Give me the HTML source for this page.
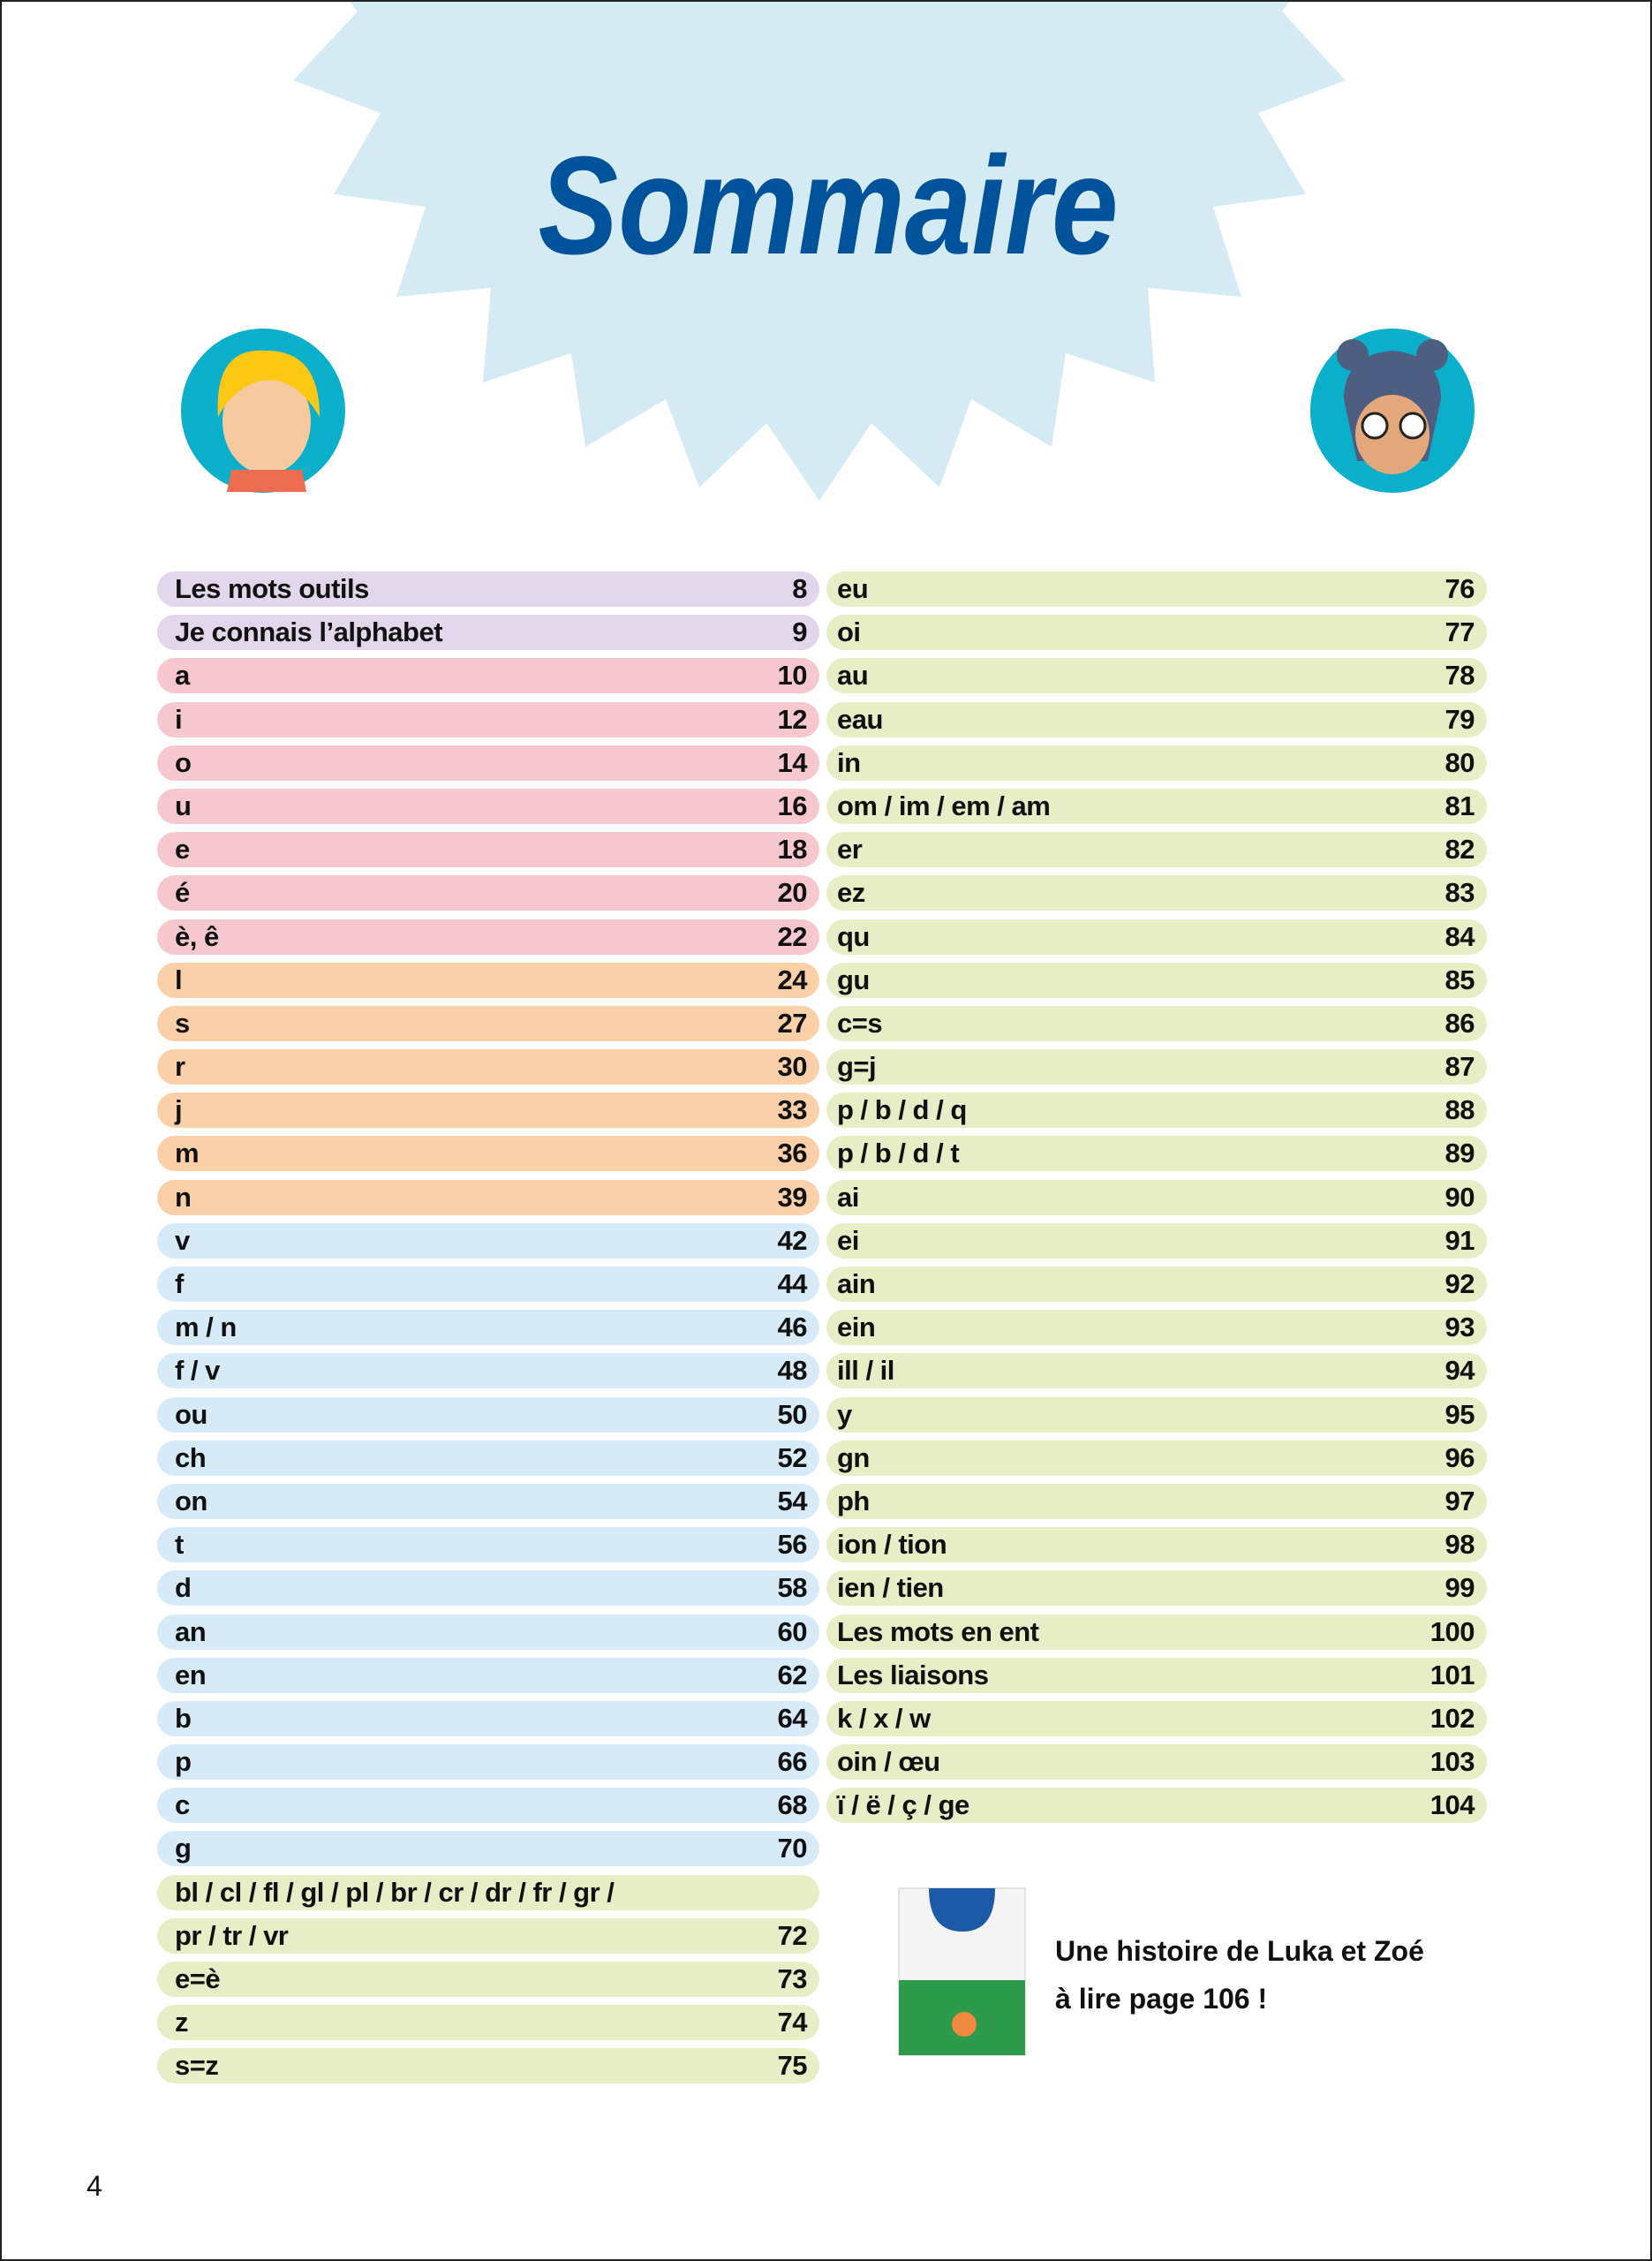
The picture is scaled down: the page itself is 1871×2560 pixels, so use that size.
<!DOCTYPE html>
<html><head><meta charset="utf-8"><style>
html,body{margin:0;padding:0;background:#fff;}
#page{position:relative;width:1871px;height:2560px;overflow:hidden;background:#fff;box-sizing:border-box;border:2px solid #222;font-family:"Liberation Sans",sans-serif;}
.col{position:absolute;top:645px;}
.r{height:40px;margin-bottom:9.2px;border-radius:20px;display:flex;justify-content:space-between;align-items:center;padding:0 14px 0 20px;box-sizing:border-box;font-weight:bold;font-size:31px;color:#111;letter-spacing:-0.5px;}
.p{background:#e1d6ea}.k{background:#f7c7d0}.o{background:#fbd0a9}.b{background:#d6ebf7}.g{background:#e7eec6}
</style></head><body><div id="page">
<svg width="1871" height="2560" style="position:absolute;left:0;top:0">
<polygon fill="#d5ebf3" points="394,0 403,11 330,89 429,126 376,218 480,232 447,334 554,324 545,431 645,398 661,504 752,450 790,550 866,477 926,565 985,477 1062,550 1098,450 1189,504 1205,398 1306,431 1298,324 1404,334 1372,232 1477,218 1423,126 1522,89 1450,11 1458,0"/>
<text x="936" y="285" text-anchor="middle" font-family="Liberation Sans" font-weight="bold" font-style="italic" font-size="158" fill="#00529b" transform="translate(936,0) scale(0.86,1) translate(-936,0)">Sommaire</text>
<circle cx="296" cy="463" r="93" fill="#0aafcc"/>
<circle cx="1575" cy="463" r="93" fill="#0aafcc"/>
<ellipse cx="300" cy="475" rx="50" ry="60" fill="#f7c99f"/>
<path d="M245,470 Q240,390 300,395 Q360,395 360,470 Q330,420 290,430 Q260,440 245,470Z" fill="#fcc813"/>
<path d="M255,555 L345,555 L340,530 L260,530Z" fill="#ec6c4f"/>
<path d="M1520,450 Q1520,400 1575,395 Q1630,400 1630,450 L1615,520 L1535,520Z" fill="#4d5e80"/>
<circle cx="1530" cy="400" r="18" fill="#4d5e80"/><circle cx="1620" cy="400" r="18" fill="#4d5e80"/>
<ellipse cx="1575" cy="490" rx="42" ry="45" fill="#e2a77a"/>
<circle cx="1555" cy="480" r="14" fill="#fff" stroke="#222" stroke-width="3"/><circle cx="1598" cy="480" r="14" fill="#fff" stroke="#222" stroke-width="3"/>
<rect x="1016" y="2136" width="143" height="189" fill="#f4f4f4" stroke="#ccc"/>
<rect x="1016" y="2240" width="143" height="85" fill="#2e9a4c"/>
<path d="M1050,2136 L1125,2136 Q1125,2185 1088,2185 Q1050,2185 1050,2136Z" fill="#1a5aa6"/>
<circle cx="1090" cy="2290" r="14" fill="#f0883e"/>
</svg>
<div class="col" style="left:176px;width:750px">
<div class="r p"><span>Les mots outils</span><span>8</span></div>
<div class="r p"><span>Je connais l’alphabet</span><span>9</span></div>
<div class="r k"><span>a</span><span>10</span></div>
<div class="r k"><span>i</span><span>12</span></div>
<div class="r k"><span>o</span><span>14</span></div>
<div class="r k"><span>u</span><span>16</span></div>
<div class="r k"><span>e</span><span>18</span></div>
<div class="r k"><span>é</span><span>20</span></div>
<div class="r k"><span>è, ê</span><span>22</span></div>
<div class="r o"><span>l</span><span>24</span></div>
<div class="r o"><span>s</span><span>27</span></div>
<div class="r o"><span>r</span><span>30</span></div>
<div class="r o"><span>j</span><span>33</span></div>
<div class="r o"><span>m</span><span>36</span></div>
<div class="r o"><span>n</span><span>39</span></div>
<div class="r b"><span>v</span><span>42</span></div>
<div class="r b"><span>f</span><span>44</span></div>
<div class="r b"><span>m / n</span><span>46</span></div>
<div class="r b"><span>f / v</span><span>48</span></div>
<div class="r b"><span>ou</span><span>50</span></div>
<div class="r b"><span>ch</span><span>52</span></div>
<div class="r b"><span>on</span><span>54</span></div>
<div class="r b"><span>t</span><span>56</span></div>
<div class="r b"><span>d</span><span>58</span></div>
<div class="r b"><span>an</span><span>60</span></div>
<div class="r b"><span>en</span><span>62</span></div>
<div class="r b"><span>b</span><span>64</span></div>
<div class="r b"><span>p</span><span>66</span></div>
<div class="r b"><span>c</span><span>68</span></div>
<div class="r b"><span>g</span><span>70</span></div>
<div class="r g"><span>bl / cl / fl / gl / pl / br / cr / dr / fr / gr /</span><span></span></div>
<div class="r g"><span>pr / tr / vr</span><span>72</span></div>
<div class="r g"><span>e=è</span><span>73</span></div>
<div class="r g"><span>z</span><span>74</span></div>
<div class="r g"><span>s=z</span><span>75</span></div>
</div>
<div class="col" style="left:934px;width:748px">
<div class="r g" style="padding-left:12px"><span>eu</span><span>76</span></div>
<div class="r g" style="padding-left:12px"><span>oi</span><span>77</span></div>
<div class="r g" style="padding-left:12px"><span>au</span><span>78</span></div>
<div class="r g" style="padding-left:12px"><span>eau</span><span>79</span></div>
<div class="r g" style="padding-left:12px"><span>in</span><span>80</span></div>
<div class="r g" style="padding-left:12px"><span>om / im / em / am</span><span>81</span></div>
<div class="r g" style="padding-left:12px"><span>er</span><span>82</span></div>
<div class="r g" style="padding-left:12px"><span>ez</span><span>83</span></div>
<div class="r g" style="padding-left:12px"><span>qu</span><span>84</span></div>
<div class="r g" style="padding-left:12px"><span>gu</span><span>85</span></div>
<div class="r g" style="padding-left:12px"><span>c=s</span><span>86</span></div>
<div class="r g" style="padding-left:12px"><span>g=j</span><span>87</span></div>
<div class="r g" style="padding-left:12px"><span>p / b / d / q</span><span>88</span></div>
<div class="r g" style="padding-left:12px"><span>p / b / d / t</span><span>89</span></div>
<div class="r g" style="padding-left:12px"><span>ai</span><span>90</span></div>
<div class="r g" style="padding-left:12px"><span>ei</span><span>91</span></div>
<div class="r g" style="padding-left:12px"><span>ain</span><span>92</span></div>
<div class="r g" style="padding-left:12px"><span>ein</span><span>93</span></div>
<div class="r g" style="padding-left:12px"><span>ill / il</span><span>94</span></div>
<div class="r g" style="padding-left:12px"><span>y</span><span>95</span></div>
<div class="r g" style="padding-left:12px"><span>gn</span><span>96</span></div>
<div class="r g" style="padding-left:12px"><span>ph</span><span>97</span></div>
<div class="r g" style="padding-left:12px"><span>ion / tion</span><span>98</span></div>
<div class="r g" style="padding-left:12px"><span>ien / tien</span><span>99</span></div>
<div class="r g" style="padding-left:12px"><span>Les mots en ent</span><span>100</span></div>
<div class="r g" style="padding-left:12px"><span>Les liaisons</span><span>101</span></div>
<div class="r g" style="padding-left:12px"><span>k / x / w</span><span>102</span></div>
<div class="r g" style="padding-left:12px"><span>oin / œu</span><span>103</span></div>
<div class="r g" style="padding-left:12px"><span>ï / ë / ç / ge</span><span>104</span></div>
</div>
<div style="position:absolute;left:1193px;top:2180px;font-weight:bold;font-size:32px;line-height:54px;color:#111">Une histoire de Luka et Zoé<br>à lire page 106 !</div>
<div style="position:absolute;left:96px;top:2455px;font-size:32px;color:#111">4</div>
</div></body></html>
